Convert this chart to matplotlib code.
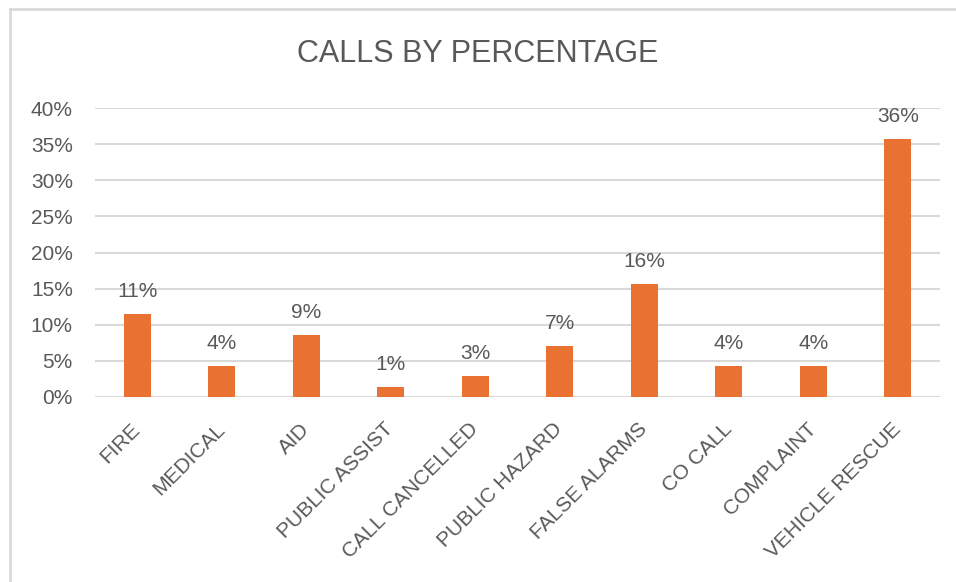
import matplotlib.pyplot as plt
from matplotlib.lines import Line2D
from matplotlib.ticker import PercentFormatter

categories = ["FIRE", "MEDICAL", "AID", "PUBLIC ASSIST", "CALL CANCELLED",
              "PUBLIC HAZARD", "FALSE ALARMS", "CO CALL", "COMPLAINT", "VEHICLE RESCUE"]
values = [0.115, 0.043, 0.086, 0.014, 0.029, 0.071, 0.157, 0.043, 0.043, 0.357]
labels = ["11%", "4%", "9%", "1%", "3%", "7%", "16%", "4%", "4%", "36%"]

text_col = "#595959"
plt.rcParams['font.family'] = ['Liberation Sans', 'DejaVu Sans']

W, H = 956, 582
fig = plt.figure(figsize=(W / 100, H / 100), dpi=100)
ax = fig.add_axes([95 / W, 1 - 397 / H, 845 / W, 289 / H])

x = range(len(categories))
bars = ax.bar(x, values, width=0.32, color="#E97132", zorder=3)

for b, lab in zip(bars, labels):
    ax.annotate(lab, (b.get_x() + b.get_width() / 2, b.get_height()),
                xytext=(0, 12), textcoords="offset points", ha="center", va="baseline",
                fontsize=15, color=text_col)

ax.set_ylim(0, 0.40)
ax.set_xlim(-0.5, len(categories) - 0.5)
ax.set_yticks([i * 0.05 for i in range(9)])
ax.yaxis.set_major_formatter(PercentFormatter(1.0, decimals=0))
ax.grid(axis="y", color="#D9D9D9", linewidth=1.5, zorder=0)
for s in ax.spines.values():
    s.set_visible(False)
ax.tick_params(length=0, labelsize=15, labelcolor=text_col)
ax.tick_params(axis="y", pad=16)
ax.set_xticks(list(x))
ax.set_xticklabels(categories, rotation=45, ha="right", va="center", rotation_mode="anchor")
ax.tick_params(axis="x", pad=21)

fig.text(0.5, 1 - 54 / H, "CALLS BY PERCENTAGE", ha="center", va="center",
         fontsize=22, color=text_col)

# light frame visible on the top and left edges
fig.add_artist(Line2D([10 / W, 1], [1 - 9 / H, 1 - 9 / H], color="#D9D9D9", linewidth=2))
fig.add_artist(Line2D([10 / W, 10 / W], [0, 1 - 9 / H], color="#D9D9D9", linewidth=2))

fig.savefig("out.png", dpi=100)
